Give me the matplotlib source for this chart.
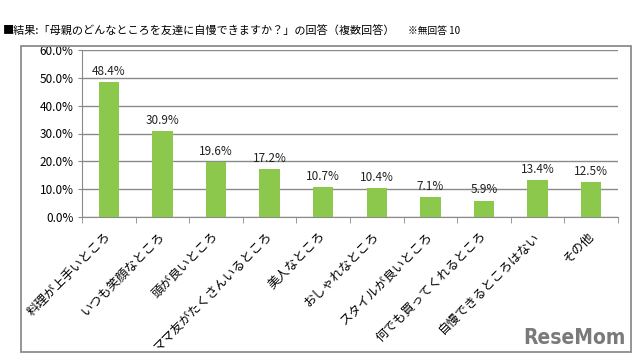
import matplotlib
matplotlib.use("Agg")
import matplotlib.pyplot as plt
import matplotlib.transforms as mtransforms
from matplotlib.ticker import FuncFormatter
from matplotlib.patches import Rectangle

plt.rcParams['font.family'] = ['Noto Sans CJK JP', 'DejaVu Sans']

categories = ["料理が上手いところ", "いつも笑顔なところ", "頭が良いところ", "ママ友がたくさんいるところ",
              "美人なところ", "おしゃれなところ", "スタイルが良いところ", "何でも買ってくれるところ",
              "自慢できるところはない", "その他"]
values = [48.4, 30.9, 19.6, 17.2, 10.7, 10.4, 7.1, 5.9, 13.4, 12.5]
yticks = [0, 10, 20, 30, 40, 50, 60]
title = "■結果:「母親のどんなところを友達に自慢できますか？」の回答（複数回答）"
note = "※無回答 10"

fig = plt.figure(figsize=(6.4, 3.61), dpi=100)
fig.patch.set_facecolor('white')

# outer frame
fig.add_artist(Rectangle((21/640, 1-352/361), (631-21)/640, (352-46)/361,
                         transform=fig.transFigure, fill=False, edgecolor='#8c8c8c', lw=1.3))

ax = fig.add_axes([82/640, 1-217/361, (618-82)/640, (217-50)/361])
x = range(len(categories))
ax.bar(x, values, width=0.38, color='#8cc84b', zorder=3)
ax.set_ylim(0, 60)
ax.set_xlim(-0.5, len(categories)-0.5)
ax.set_yticks(yticks)
ax.yaxis.set_major_formatter(FuncFormatter(lambda v, p: f"{v:.1f}%"))
ax.grid(axis='y', color='#8a8a8a', lw=1.0, zorder=0)
for s in ['top', 'right']:
    ax.spines[s].set_visible(False)
ax.spines['left'].set_color('#8a8a8a')
ax.spines['bottom'].set_color('#8a8a8a')
ax.tick_params(axis='y', labelsize=8.5, length=3, color='#8a8a8a', pad=3)
ax.set_xticks([i + 0.5 for i in range(-1, len(categories))], minor=True)
ax.set_xticks(list(x))
ax.tick_params(axis='x', which='minor', length=4, color='#8a8a8a')
ax.tick_params(axis='x', which='major', length=0, pad=9)
ax.set_xticklabels(categories, rotation=45, ha='right', rotation_mode='anchor', fontsize=9)
for lbl in ax.get_xticklabels():
    lbl.set_transform(lbl.get_transform() + mtransforms.ScaledTranslation(-4/100, 0, fig.dpi_scale_trans))
for i, v in zip(x, values):
    ax.text(i, v + 1.5, f"{v:.1f}%", ha='center', va='bottom', fontsize=8.5, color='#222222')

fig.text(3/640, 1-31/361, title, fontsize=8.0, va='center', ha='left')
fig.text(408/640, 1-31/361, note, fontsize=7, va='center', ha='left')
fig.text(626/640, 1-338/361, "ReseMom", fontsize=15, fontweight='bold', color='#7a7a7a',
         family='DejaVu Sans', fontstretch='condensed', ha='right', va='center')

fig.savefig("out.png", dpi=100)
